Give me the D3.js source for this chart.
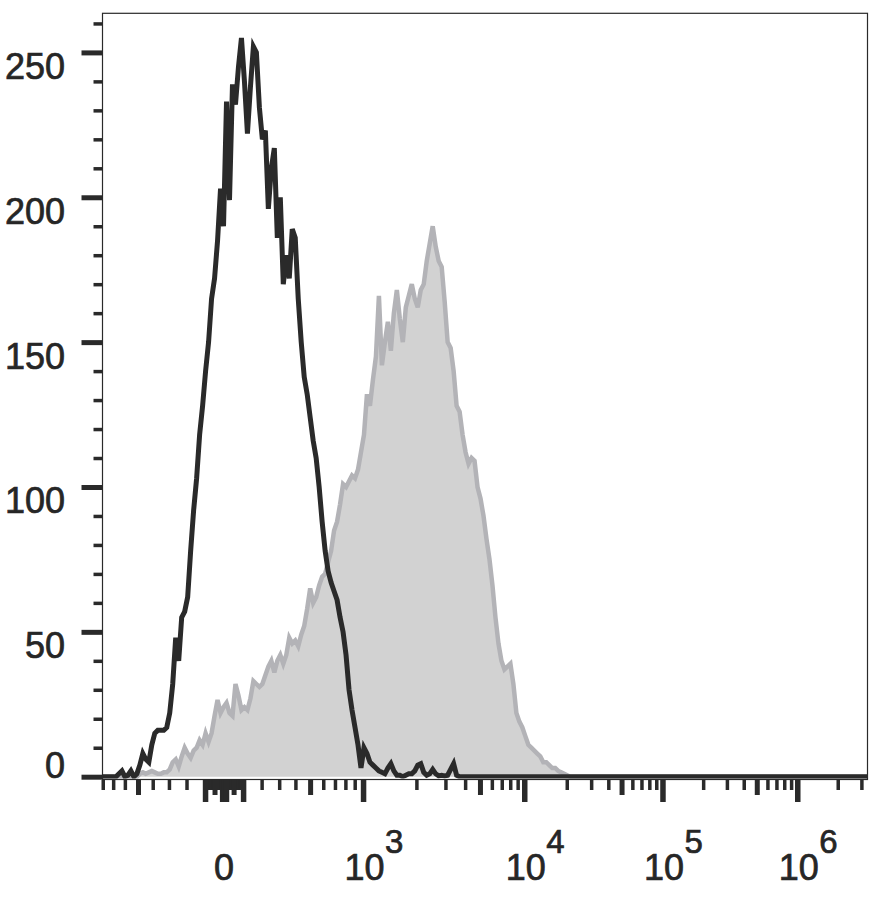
<!DOCTYPE html>
<html>
<head>
<meta charset="utf-8">
<script src="https://cdn.jsdelivr.net/npm/d3@7"></script>
<style>
  html, body { margin: 0; padding: 0; background: #ffffff; }
  svg { display: block; }
</style>
</head>
<body>
<div id="chart"></div>
<script>
// ---------------- data ----------------
// histogram channels are uniform bins along the (logicle) display axis
const channelCount = 256;

const blackStart = 5;
const blackCounts = [
  1, 2, 0, 0.5, 2, 0, 1, 4, 8, 6,
  5, 11, 15, 16, 16, 16, 17, 22, 32, 48,
  40, 55, 57, 62, 78, 92, 103, 118, 128, 140,
  150, 165, 172, 185, 203, 190, 233, 199, 239, 232,
  245, 255, 240, 222, 238, 252, 250, 231, 220, 223,
  196, 210, 217, 186, 200, 170, 180, 172, 189, 186,
  165, 150, 138, 132, 124, 116, 110, 100, 88, 78,
  71, 67, 64, 61, 55, 50, 42, 30, 23, 17,
  11, 3, 10, 8, 5, 4, 3, 2, 1.5, 1,
  3, 4.5, 2, 0.5, 0.5, 0, 0.5, 1, 1, 2,
  4, 4.5, 1.5, 0.5, 1, 2.5, 1, 0.3, 0.5, 0.3,
  0.5, 2.5, 4.5, 0.5, 0
];

const grayStart = 12;
const grayCounts = [
  1, 1.5, 1, 1.5, 2, 1.5, 1, 1, 1.5, 1.5,
  2.5, 5, 6, 3.5, 7, 10, 8, 6.5, 9, 10,
  12.6, 11, 15, 12, 15, 21, 26.5, 22, 24, 25.5,
  22, 21, 32, 28, 23, 24, 23, 27, 33, 32,
  31, 32, 35, 38, 40, 36, 40, 42, 39, 42,
  48, 46, 47, 45, 49, 52, 58, 65, 60, 62,
  66, 69, 70, 74, 78, 85, 88, 94, 101, 100,
  102, 104, 103, 106, 112, 118, 132, 128, 137, 145,
  166, 142, 150, 157, 147, 160, 168, 158, 150, 162,
  166, 170, 165, 162, 168, 170, 178, 184, 190, 183,
  178, 176, 164, 150, 148, 140, 128, 126, 118, 112,
  108, 110, 109, 100, 96, 90, 82, 75, 66, 55,
  46, 40, 37, 38, 39, 32, 22, 19, 17, 14,
  11, 10, 9, 8, 7, 5, 5, 4, 3, 3,
  2, 1.5, 1, 0.5, 0
];

const yMajorTicks = [0, 50, 100, 150, 200, 250];
const yMinorTicks = [10, 20, 30, 40, 60, 70, 80, 90, 110, 120, 130, 140, 160, 170, 180, 190,
                     210, 220, 230, 240, 260];

const xMajorTicks = [-100, -10, 0, 10, 100, 1e3, 1e4, 1e5, 1e6];
const xMediumTicks = [-500, -50, 50, 500, 5e3, 5e4, 5e5];
const xMinorTicks = [
  -900, -800, -700, -600, -400, -300, -200,
  -90, -80, -70, -60, -40, -30, -20,
  20, 30, 40, 60, 70, 80, 90,
  200, 300, 400, 600, 700, 800, 900,
  2e3, 3e3, 4e3, 6e3, 7e3, 8e3, 9e3,
  2e4, 3e4, 4e4, 6e4, 7e4, 8e4, 9e4,
  2e5, 3e5, 4e5, 6e5, 7e5, 8e5, 9e5,
  2e6, 3e6, 4e6
];
const xDecadeLabels = [3, 4, 5, 6];

// logicle parameters of the display axis
const logicleT = 3.331e6, logicleW = 1.1, logicleM = 5.89, logicleA = -0.195;

// ---------------- logicle transform ----------------
function makeLogicle(T, W, M, A) {
  const w = W / (M + A), x2 = A / (M + A), x1 = x2 + w, x0 = x2 + 2 * w;
  const b = (M + A) * Math.LN10;
  let lo = 1e-9, hi = b;
  for (let i = 0; i < 200; i++) {
    const mid = (lo + hi) / 2;
    const g = 2 * (Math.log(mid) - Math.log(b)) + w * (b + mid);
    if (g > 0) hi = mid; else lo = mid;
  }
  const d = (lo + hi) / 2;
  const ca = Math.exp(x0 * (b + d));
  const mfa = Math.exp(b * x1) - ca * Math.exp(-d * x1);
  const a = T / ((Math.exp(b) - mfa) - ca * Math.exp(-d));
  const c = ca * a, f = -mfa * a;
  const inverse = y => {
    const r = y < x1 ? 2 * x1 - y : y;
    const v = a * Math.exp(b * r) - c * Math.exp(-d * r) + f;
    return y < x1 ? -v : v;
  };
  const forward = v => {
    let l = -1, h = 1.5;
    for (let i = 0; i < 80; i++) {
      const m = (l + h) / 2;
      if (inverse(m) < v) l = m; else h = m;
    }
    return (l + h) / 2;
  };
  return forward;
}
const logicle = makeLogicle(logicleT, logicleW, logicleM, logicleA);

// ---------------- layout ----------------
const width = 874, height = 899;
const plotLeft = 102.5, plotRight = 867.5, plotTop = 13.3, plotBottom = 779.5;
const zeroY = 776.7;
const fontFamily = "'Liberation Sans', Arial, Helvetica, sans-serif";
const inkColor = "#2a2a2a";
const textColor = "#262626";

const svg = d3.select("#chart").append("svg")
  .attr("width", width).attr("height", height)
  .attr("viewBox", `0 0 ${width} ${height}`);

const xDisp = d3.scaleLinear().domain([0, 1]).range([plotLeft, plotRight]);
const xChan = d3.scaleLinear().domain([0, channelCount]).range([plotLeft, plotRight]);
const y = d3.scaleLinear().domain([0, 263.5]).range([zeroY, plotTop]);

function buildSeries(start, counts) {
  const pts = d3.range(channelCount).map(c => ({
    x: c + 0.5,
    v: (c >= start && c < start + counts.length) ? counts[c - start] : 0
  }));
  pts.unshift({ x: 0, v: 0 });
  pts.push({ x: channelCount, v: 0 });
  return pts;
}
const blackSeries = buildSeries(blackStart, blackCounts);
const graySeries = buildSeries(grayStart, grayCounts);

svg.append("clipPath").attr("id", "plotClip")
  .append("rect")
  .attr("x", plotLeft - 25).attr("y", plotTop)
  .attr("width", plotRight - plotLeft + 25).attr("height", plotBottom - plotTop - 1);

const plot = svg.append("g").attr("clip-path", "url(#plotClip)");

const area = d3.area()
  .x(d => xChan(d.x)).y0(y(0)).y1(d => y(d.v));
const line = d3.line()
  .x(d => xChan(d.x)).y(d => y(d.v));

plot.append("path").datum(graySeries)
  .attr("d", area).attr("fill", "#d2d2d2");
plot.append("path").datum(graySeries)
  .attr("d", line).attr("fill", "none")
  .attr("stroke", "#b3b3b7").attr("stroke-width", 4.5).attr("stroke-linejoin", "miter");
plot.append("path").datum(blackSeries)
  .attr("d", line).attr("fill", "none")
  .attr("stroke", inkColor).attr("stroke-width", 5).attr("stroke-linejoin", "miter");

// frame
svg.append("rect")
  .attr("x", plotLeft).attr("y", plotTop)
  .attr("width", plotRight - plotLeft).attr("height", plotBottom - plotTop)
  .attr("fill", "none").attr("stroke", inkColor).attr("stroke-width", 1.2);

// ---------------- y axis ----------------
const yMinorAxis = svg.append("g")
  .attr("transform", `translate(${plotLeft},0)`)
  .call(d3.axisLeft(y).tickValues(yMinorTicks).tickSize(9).tickFormat(() => ""));
yMinorAxis.select(".domain").remove();
yMinorAxis.selectAll("line").attr("stroke", inkColor).attr("stroke-width", 3.5);

const yMajorAxis = svg.append("g")
  .attr("transform", `translate(${plotLeft},0)`)
  .call(d3.axisLeft(y).tickValues(yMajorTicks).tickSize(21).tickFormat(d3.format("d")));
yMajorAxis.select(".domain").remove();
yMajorAxis.selectAll("line").attr("stroke", inkColor).attr("stroke-width", 5);
yMajorAxis.selectAll("text")
  .attr("x", -37.5)
  .attr("dy", null)
  .attr("y", d => d === 0 ? 0.5 : 26)
  .attr("fill", textColor)
  .attr("stroke", textColor)
  .attr("stroke-width", 0.7)
  .attr("font-size", 36)
  .attr("font-family", fontFamily)
  .attr("text-anchor", "end");

// ---------------- x axis ----------------
const inDisplay = v => { const t = logicle(v); return t >= -0.003 && t <= 1.001; };

function drawXTicks(values, size, strokeW) {
  const g = svg.append("g")
    .attr("transform", `translate(0,${plotBottom + 0.5})`)
    .call(d3.axisBottom(xDisp)
      .tickValues(values.filter(inDisplay).map(logicle))
      .tickSize(size)
      .tickFormat(() => ""));
  g.select(".domain").remove();
  g.selectAll("line").attr("stroke", inkColor).attr("stroke-width", strokeW);
  return g;
}
drawXTicks(xMinorTicks, 10, 3.5);
drawXTicks(xMediumTicks, 15, 5);
drawXTicks(xMajorTicks, 22, 5.5);

const xLabels = svg.append("g")
  .attr("fill", textColor)
  .attr("stroke", textColor).attr("stroke-width", 0.7)
  .attr("font-family", fontFamily);

xLabels.append("text")
  .attr("x", xDisp(logicle(0)))
  .attr("y", 880)
  .attr("text-anchor", "middle")
  .attr("font-size", 36)
  .text("0");

xDecadeLabels.forEach(k => {
  const px = xDisp(logicle(Math.pow(10, k)));
  xLabels.append("text")
    .attr("x", px + 1.5).attr("y", 880)
    .attr("text-anchor", "middle").attr("font-size", 36)
    .text("10");
  xLabels.append("text")
    .attr("x", px + 22).attr("y", 853)
    .attr("text-anchor", "start").attr("font-size", 33)
    .text(String(k));
});
</script>
</body>
</html>
